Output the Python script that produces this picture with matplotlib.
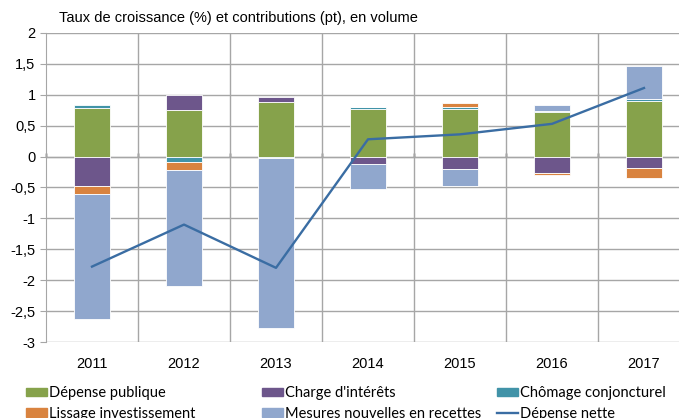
import numpy as np
import matplotlib
matplotlib.use('Agg')
import matplotlib.pyplot as plt
from matplotlib.patches import Patch
from matplotlib.lines import Line2D

years = ['2011', '2012', '2013', '2014', '2015', '2016', '2017']
depense_publique = [0.79, 0.76, 0.89, 0.77, 0.765, 0.72, 0.90]
charge_interets = [-0.47, 0.24, 0.08, -0.12, -0.20, -0.26, -0.18]
chomage = [0.05, -0.08, -0.02, 0.04, 0.04, 0.02, 0.04]
lissage = [-0.14, -0.14, -0.01, 0.0, 0.06, -0.04, -0.16]
mesures = [-2.02, -1.88, -2.75, -0.41, -0.28, 0.09, 0.52]
depense_nette = [-1.78, -1.10, -1.80, 0.28, 0.36, 0.53, 1.11]

yticks = [-3, -2.5, -2, -1.5, -1, -0.5, 0, 0.5, 1, 1.5, 2]
ytick_labels = ['-3', '-2,5', '-2', '-1,5', '-1', '-0,5', '0', '0,5', '1', '1,5', '2']

names = ['Dépense publique', "Charge d'intérêts", 'Chômage conjoncturel',
         'Lissage investissement', 'Mesures nouvelles en recettes']
colors = ['#86A24B', '#6D568B', '#4193A8', '#D9833F', '#90A7CD']
line_color = '#3A6DA3'

plt.rcParams['font.family'] = ['Liberation Sans', 'DejaVu Sans']

fig = plt.figure(figsize=(6.79, 4.18), dpi=100)
ax = fig.add_axes([46 / 679, 76 / 418, 644 / 679, 309 / 418])

x = np.arange(len(years))
pos_base = np.zeros(len(years))
neg_base = np.zeros(len(years))
for vals, name, c in zip([depense_publique, charge_interets, chomage, lissage, mesures], names, colors):
    v = np.array(vals)
    base = np.where(v >= 0, pos_base, neg_base)
    ax.bar(x, v, 0.4, bottom=base, color=c, edgecolor='white', linewidth=0.6, zorder=2)
    pos_base += np.where(v >= 0, v, 0)
    neg_base += np.where(v < 0, v, 0)

ax.plot(x, depense_nette, color=line_color, lw=1.7, zorder=4)

ax.set_xlim(-0.5, len(years) - 0.5)
ax.set_ylim(-3, 2)
ax.set_yticks(yticks)
ax.set_yticklabels(ytick_labels)
ax.set_xticks(x)
ax.set_xticklabels(years)
ax.set_xticks(np.arange(0.5, len(years) - 0.5, 1), minor=True)

ax.grid(axis='y', which='major', color='#a6a6a6', lw=1, zorder=0)
ax.grid(axis='x', which='minor', color='#a6a6a6', lw=1, zorder=0)
ax.set_axisbelow(True)
for s in ['top', 'right', 'bottom']:
    ax.spines[s].set_visible(False)
ax.spines['left'].set_color('#a6a6a6')
ax.tick_params(axis='y', length=4.5, color='#a6a6a6', labelsize=10.5, pad=3)
ax.tick_params(axis='x', which='both', length=0, labelsize=10.5, pad=11)

# horizontal axis at zero
sec = ax.secondary_xaxis(3 / 5)
sec.set_xticks(np.arange(-0.5, len(years), 1))
sec.set_xticklabels([])
sec.tick_params(direction='out', length=3, color='black', width=1)
sec.spines['bottom'].set_color('black')
sec.spines['bottom'].set_linewidth(1.1)

fig.text(59 / 679, 1 - 18 / 418, 'Taux de croissance (%) et contributions (pt), en volume',
         fontsize=10.5, va='center', ha='left')

handles = [Patch(color=c) for c in colors] + [Line2D([], [], color=line_color, lw=1.7)]
labels = names + ['Dépense nette']
cols = [[0, 3], [1, 4], [2, 5]]
xs = [26, 262, 497]
for col, xp in zip(cols, xs):
    fig.legend([handles[i] for i in col], [labels[i] for i in col],
               loc='upper left', bbox_to_anchor=(xp / 679, 1 - 386 / 418),
               frameon=False, borderpad=0, borderaxespad=0,
               handlelength=1.45, handleheight=0.5, handletextpad=0.15,
               labelspacing=0.45, prop={'family': ['Lato', 'DejaVu Sans'], 'size': 10.5})

fig.savefig('out.png', dpi=100)
